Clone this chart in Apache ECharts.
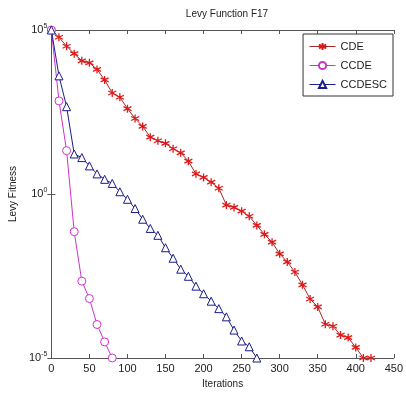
<!DOCTYPE html>
<html>
<head>
<meta charset="utf-8">
<script src="https://cdn.jsdelivr.net/npm/echarts@6/dist/echarts.min.js"></script>
<style>
  html, body { margin: 0; padding: 0; background: #fff; }
  #chart { width: 406px; height: 398px; }
</style>
</head>
<body>
<div id="chart"></div>
<script>
// iterations (x), one per marker
const iterations = [0, 10, 20, 30, 40, 50, 60, 70, 80, 90, 100, 110, 120, 130, 140, 150, 160, 170, 180, 190,
  200, 210, 220, 230, 240, 250, 260, 270, 280, 290, 300, 310, 320, 330, 340, 350, 360, 370, 380, 390, 400, 410, 420];

// fitness values
const cde = [1e5, 6.0e4, 3.2e4, 1.9e4, 1.15e4, 1.0e4, 6.3e3, 3.0e3, 1.2e3, 8.9e2, 4.0e2, 2.0e2, 1.15e2, 54, 42, 35, 24, 18, 10,
  4.1, 3.2, 2.3, 1.5, 0.46, 0.39, 0.30, 0.21, 0.11, 0.059, 0.034, 0.015, 8.5e-3, 4.2e-3, 1.7e-3, 6.3e-4, 3.6e-4,
  1.07e-4, 9.3e-5, 5.0e-5, 4.2e-5, 2.1e-5, 1e-5, 1e-5];
const ccde = [1e5, 690, 21, 0.071, 2.2e-3, 6.5e-4, 1.05e-4, 3.1e-5, 1e-5];
const ccdesc = [1e5, 4.0e3, 460, 16.6, 12.9, 7.2, 4.1, 2.8, 2.1, 1.17, 0.69, 0.36, 0.17, 0.089, 0.055, 0.023, 0.011,
  5.1e-3, 3.1e-3, 1.55e-3, 9.1e-4, 5.4e-4, 3.2e-4, 1.8e-4, 7.1e-5, 3.3e-5, 2.2e-5, 1e-5];

const seriesNames = ['CDE', 'CCDE', 'CCDESC'];

const pairs = vals => vals.map((v, i) => [iterations[i], v]);

const font = 'Liberation Sans, Arial, sans-serif';
const axisCol = '#555';
const starPath = 'path://M0,-5L0,5M-4.33,-2.5L4.33,2.5M-4.33,2.5L4.33,-2.5';

let chart = echarts.init(document.getElementById('chart'));
chart.setOption({
  animation: false,
  backgroundColor: '#fff',
  title: {
    text: 'Levy Function F17',
    left: 222, top: 4, textAlign: 'center',
    textStyle: { fontFamily: font, fontSize: 10, fontWeight: 'normal', color: '#222' }
  },
  legend: {
    right: 13, top: 34,
    orient: 'vertical',
    data: seriesNames,
    backgroundColor: '#fff',
    borderColor: '#333', borderWidth: 1,
    padding: [7, 6, 6, 6],
    itemGap: 8, itemWidth: 26, itemHeight: 9,
    lineStyle: { width: 1 },
    textStyle: { fontFamily: font, fontSize: 11, color: '#222' }
  },
  grid: { left: 48, right: 9, top: 30, bottom: 40 },
  xAxis: [{
    type: 'value', min: 0, max: 450, interval: 50,
    name: 'Iterations', nameLocation: 'middle', nameGap: 19,
    nameTextStyle: { fontFamily: font, fontSize: 10, color: '#222' },
    axisLine: { lineStyle: { color: axisCol } },
    axisTick: { inside: true, length: 4, lineStyle: { color: axisCol } },
    axisLabel: { fontFamily: font, fontSize: 11, color: '#222', margin: 5 },
    splitLine: { show: false }
  }, {
    type: 'value', min: 0, max: 450, interval: 50, position: 'top',
    axisLine: { lineStyle: { color: axisCol } },
    axisTick: { inside: true, length: 4, lineStyle: { color: axisCol } },
    axisLabel: { show: false }, splitLine: { show: false }
  }],
  yAxis: [{
    type: 'log', logBase: 10, min: 1e-5, max: 1e5, interval: 5,
    name: 'Levy Fitness', nameLocation: 'middle', nameGap: 30,
    nameTextStyle: { fontFamily: font, fontSize: 10, color: '#222' },
    axisLine: { show: true, lineStyle: { color: axisCol } },
    axisTick: { show: true, inside: true, length: 4, lineStyle: { color: axisCol } },
    axisLabel: {
      fontFamily: font, fontSize: 11, color: '#222', margin: 4,
      formatter: v => '10{s|' + Math.round(Math.log10(v)) + '}',
      rich: { s: { fontFamily: font, fontSize: 7, color: '#222', padding: [0, 0, 8, 0] } }
    },
    splitLine: { show: false }
  }, {
    type: 'log', logBase: 10, min: 1e-5, max: 1e5, interval: 5, position: 'right',
    axisLine: { show: true, lineStyle: { color: axisCol } },
    axisTick: { show: true, inside: true, length: 4, lineStyle: { color: axisCol } },
    axisLabel: { show: false }, splitLine: { show: false }
  }],
  series: [{
    name: 'CDE', type: 'line', data: pairs(cde), clip: false,
    symbol: starPath, symbolSize: 8,
    lineStyle: { color: '#a02828', width: 1 },
    itemStyle: { color: '#e01818', borderColor: '#e01818', borderWidth: 1.3 }
  }, {
    name: 'CCDE', type: 'line', data: pairs(ccde), clip: false,
    symbol: 'circle', symbolSize: 8,
    lineStyle: { color: '#cc33cc', width: 1 },
    itemStyle: { color: '#fff', borderColor: '#cc33cc', borderWidth: 1 }
  }, {
    name: 'CCDESC', type: 'line', data: pairs(ccdesc), clip: false,
    symbol: 'triangle', symbolSize: 8,
    lineStyle: { color: '#1c1c8a', width: 1 },
    itemStyle: { color: '#fff', borderColor: '#1c1c8a', borderWidth: 1 }
  }]
});
</script>
</body>
</html>
